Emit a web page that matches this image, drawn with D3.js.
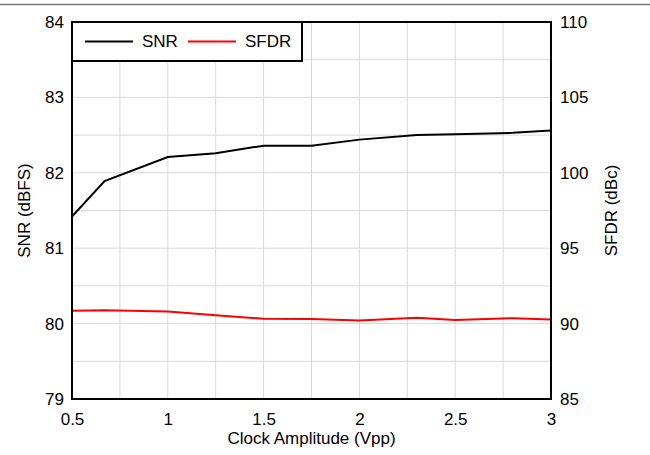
<!DOCTYPE html>
<html>
<head>
<meta charset="utf-8">
<script src="https://cdn.jsdelivr.net/npm/d3@7"></script>
<style>
  html, body { margin: 0; padding: 0; background: #fff; }
  svg text { font-family: "Liberation Sans", Arial, sans-serif; font-size: 17px; fill: #000; }
</style>
</head>
<body>
<div id="chart"></div>
<script>
// clock amplitude sweep (Vpp)
const amplitude = [0.5, 0.67, 1, 1.25, 1.5, 1.75, 2, 2.3, 2.5, 2.8, 3];
const snr = [81.42, 81.89, 82.21, 82.26, 82.36, 82.36, 82.44, 82.5, 82.51, 82.53, 82.56];
const sfdr = [90.86, 90.88, 90.8, 90.56, 90.32, 90.3, 90.2, 90.39, 90.24, 90.36, 90.28];

const xTicks = [0.5, 1, 1.5, 2, 2.5, 3];
const snrTicks = [79, 80, 81, 82, 83, 84];
const sfdrTicks = [85, 90, 95, 100, 105, 110];

const W = 650, H = 455;
const margin = {top: 22, right: 99, bottom: 56, left: 72};
const width = W - margin.left - margin.right;
const height = H - margin.top - margin.bottom;

const svg = d3.select("#chart").append("svg")
    .attr("width", W)
    .attr("height", H);

// thin rule across the top of the page
svg.append("line")
    .attr("x1", 0).attr("x2", W)
    .attr("y1", 4.5).attr("y2", 4.5)
    .style("stroke", "#777")
    .style("stroke-width", 1.5);

const chart = svg.append("g")
    .attr("transform", `translate(${margin.left},${margin.top})`);

const x = d3.scaleLinear().domain([0.5, 3]).range([0, width]);
const yL = d3.scaleLinear().domain([79, 84]).range([height, 0]);
const yR = d3.scaleLinear().domain([85, 110]).range([height, 0]);

// grid
chart.append("g")
    .selectAll("line")
    .data(d3.range(0.75, 3, 0.25))
    .join("line")
    .attr("x1", d => x(d)).attr("x2", d => x(d))
    .attr("y1", 0).attr("y2", height)
    .style("stroke", "#d9d9d9")
    .style("stroke-width", 1);

chart.append("g")
    .selectAll("line")
    .data(d3.range(79.5, 84, 0.5))
    .join("line")
    .attr("x1", 0).attr("x2", width)
    .attr("y1", d => yL(d)).attr("y2", d => yL(d))
    .style("stroke", "#d9d9d9")
    .style("stroke-width", 1);

// axes (labels only, frame drawn separately)
const fmt = d3.format("");
const xAxis = chart.append("g")
    .attr("transform", `translate(0,${height})`)
    .call(d3.axisBottom(x).tickValues(xTicks).tickSize(0).tickPadding(9).tickFormat(fmt));

const leftAxis = chart.append("g")
    .call(d3.axisLeft(yL).tickValues(snrTicks).tickSize(0).tickPadding(8).tickFormat(fmt));

const rightAxis = chart.append("g")
    .attr("transform", `translate(${width},0)`)
    .call(d3.axisRight(yR).tickValues(sfdrTicks).tickSize(0).tickPadding(9).tickFormat(fmt));

[xAxis, leftAxis, rightAxis].forEach(a => {
    a.select(".domain").remove();
    a.selectAll("text").style("font-size", "17px").attr("font-family", null);
});
xAxis.selectAll("text").attr("dy", "1em");

// series
const snrLine = d3.line().x((d, i) => x(amplitude[i])).y(d => yL(d));
const sfdrLine = d3.line().x((d, i) => x(amplitude[i])).y(d => yR(d));

chart.append("path")
    .datum(sfdr)
    .attr("d", sfdrLine)
    .style("fill", "none")
    .style("stroke", "#ff0000")
    .style("stroke-width", 2);

chart.append("path")
    .datum(snr)
    .attr("d", snrLine)
    .style("fill", "none")
    .style("stroke", "#000")
    .style("stroke-width", 2);

// frame
chart.append("rect")
    .attr("x", 0).attr("y", 0)
    .attr("width", width).attr("height", height)
    .style("fill", "none")
    .style("stroke", "#000")
    .style("stroke-width", 2);

// legend
const legend = chart.append("g");
legend.append("rect")
    .attr("x", 0).attr("y", 0)
    .attr("width", 230).attr("height", 39)
    .style("fill", "#fff")
    .style("stroke", "#000")
    .style("stroke-width", 2);

const legendItems = [
    {name: "SNR", color: "#000", x0: 13},
    {name: "SFDR", color: "#ff0000", x0: 116}
];
legendItems.forEach(it => {
    legend.append("line")
        .attr("x1", it.x0).attr("x2", it.x0 + 48)
        .attr("y1", 19.5).attr("y2", 19.5)
        .style("stroke", it.color)
        .style("stroke-width", 2);
    legend.append("text")
        .attr("x", it.x0 + 57)
        .attr("y", 19.5)
        .attr("dy", "0.35em")
        .text(it.name);
});

// axis titles
svg.append("text")
    .attr("x", margin.left + width / 2)
    .attr("y", 444)
    .attr("text-anchor", "middle")
    .text("Clock Amplitude (Vpp)");

svg.append("text")
    .attr("transform", `translate(30,${margin.top + height / 2}) rotate(-90)`)
    .attr("text-anchor", "middle")
    .text("SNR (dBFS)");

svg.append("text")
    .attr("transform", `translate(617,${margin.top + height / 2}) rotate(-90)`)
    .attr("text-anchor", "middle")
    .text("SFDR (dBc)");
</script>
</body>
</html>
